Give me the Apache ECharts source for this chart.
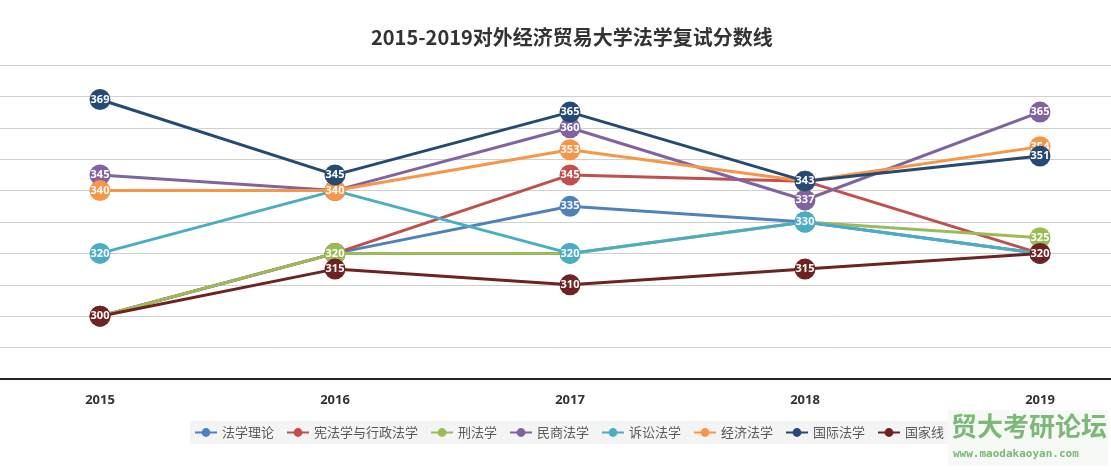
<!DOCTYPE html>
<html><head><meta charset="utf-8">
<script src="https://cdn.jsdelivr.net/npm/echarts@6/dist/echarts.min.js"></script>
<style>html,body{margin:0;padding:0;background:#fff}#c{width:1111px;height:470px}</style>
</head><body><div id="c"></div>
<script>
var years = ['2015','2016','2017','2018','2019'];
var seriesNames = ['法学理论','宪法学与行政法学','刑法学','民商法学','诉讼法学','经济法学','国际法学','国家线'];
var colors = ['#4F81BD','#C0504D','#9BBB59','#8064A2','#4BACC6','#F79646','#264A73','#6E2222'];
var faxuelilun = [300,320,335,330,320];
var xianfa = [300,320,345,343,320];
var xingfa = [300,320,320,330,325];
var minshang = [345,340,360,337,365];
var susong = [320,340,320,330,320];
var jingji = [340,340,353,343,354];
var guoji = [369,345,365,343,351];
var guojiaxian = [300,315,310,315,320];
var allData = [faxuelilun,xianfa,xingfa,minshang,susong,jingji,guoji,guojiaxian];
var yTicks = {min:280,max:380,interval:10};

var chart = echarts.init(document.getElementById('c'));
var series = seriesNames.map(function(n,i){
  return {
    name:n, type:'line', data:allData[i], z:2+i, xAxisIndex:0, yAxisIndex:0,
    symbol:'circle', symbolSize:21,
    lineStyle:{width:3,color:colors[i]},
    itemStyle:{color:colors[i]},
    label:{show:true,position:'inside',color:'#fff',fontSize:11,fontWeight:'bold',fontFamily:'Noto Sans'},
    emphasis:{disabled:true}
  };
});
chart.setOption({
  animation:false,
  backgroundColor:'#fff',
  color:colors,
  title:{text:'2015-2019对外经济贸易大学法学复试分数线',left:366,top:22,
    textStyle:{fontSize:20,fontWeight:'bold',color:'#333',fontFamily:'Noto Sans CJK SC'}},
  grid:[
    {left:100,right:71,top:65,height:314,containLabel:false},
    {left:0,right:0,top:65,height:314,containLabel:false}
  ],
  xAxis:[
    {type:'category',data:years,boundaryGap:false,gridIndex:0,
      axisLine:{show:false},axisTick:{show:false},splitLine:{show:false},
      axisLabel:{margin:15,fontSize:13,fontWeight:'bold',color:'#333',fontFamily:'Noto Sans'}},
    {type:'value',gridIndex:1,min:0,max:1,axisLabel:{show:false},axisTick:{show:false},splitLine:{show:false},
      axisLine:{show:true,onZero:false,lineStyle:{color:'#222',width:2}}}
  ],
  yAxis:[
    {type:'value',gridIndex:0,min:yTicks.min,max:yTicks.max,interval:yTicks.interval,
      axisLine:{show:false},axisTick:{show:false},axisLabel:{show:false},splitLine:{show:false}},
    {type:'value',gridIndex:1,min:yTicks.min,max:yTicks.max,interval:yTicks.interval,
      axisLine:{show:false},axisTick:{show:false},axisLabel:{show:false},
      splitLine:{lineStyle:{color:'#cfcfcf',width:1}}}
  ],
  legend:{left:190,top:421,itemWidth:22,itemHeight:11,itemGap:12,
    backgroundColor:'#f4f4f4',padding:[5,4],
    textStyle:{fontSize:13,color:'#595959',fontFamily:'Noto Sans CJK SC'},
    data:seriesNames},
  graphic:[
    {type:'rect',left:948,top:410,shape:{width:160,height:56},style:{fill:'#f7f9f7'},z:-1},
    {type:'text',left:951,top:413,style:{text:'贸大考研论坛',fill:'#7DB879',font:'bold 26px "Noto Sans CJK SC"'}},
    {type:'text',left:953,top:449,style:{text:'www.maodakaoyan.com',fill:'#7DB879',font:'bold 11px "DejaVu Sans Mono"'}}
  ],
  series:series
});
</script></body></html>
